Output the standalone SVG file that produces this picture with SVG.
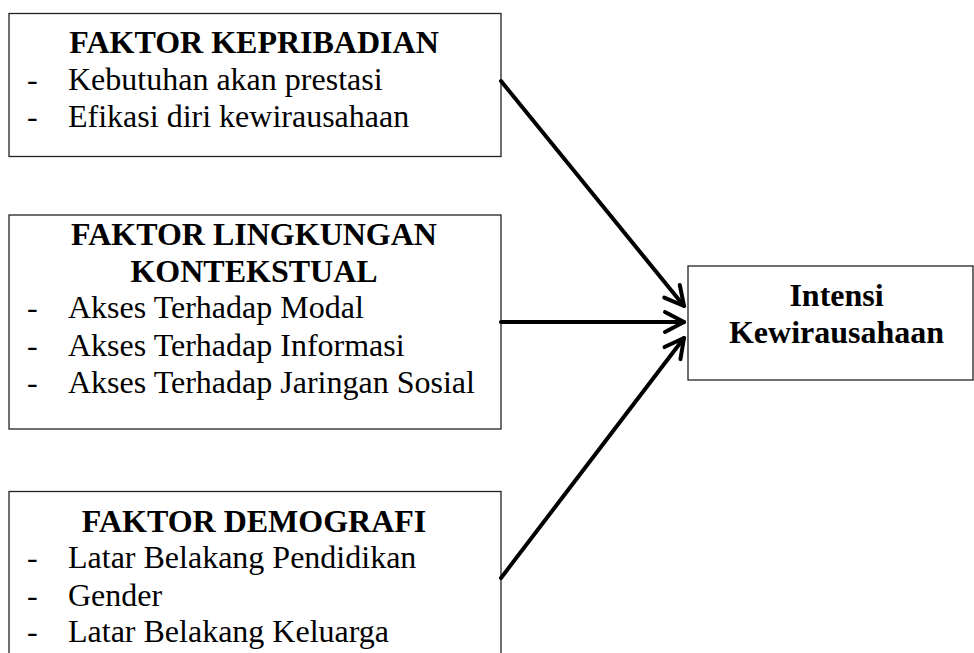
<svg xmlns="http://www.w3.org/2000/svg" width="974" height="653" viewBox="0 0 974 653">
<style>
.box{fill:#fff;stroke:#222;stroke-width:1.3}
.t{font-family:"Liberation Serif","Times New Roman",serif;font-size:32px;fill:#000}
.b{font-weight:bold}
.c{text-anchor:middle}
.conn{stroke:#000;stroke-width:4;fill:none;stroke-linecap:round}
</style>
<defs>
<marker id="arr" markerUnits="userSpaceOnUse" markerWidth="30" markerHeight="30" viewBox="-24 -15 30 30" refX="0" refY="0" orient="auto" overflow="visible">
<path d="M-19,-10 L0,0 L-19,10" fill="none" stroke="#000" stroke-width="4" stroke-linecap="round" stroke-linejoin="round"/>
</marker>
</defs>
<rect width="974" height="653" fill="#fff"/>
<g id="node-kepribadian">
<rect class="box" x="9" y="13.5" width="492" height="143"/>
<text class="t b c" x="254" y="53">FAKTOR KEPRIBADIAN</text>
<text class="t" x="27" y="90">-</text><text class="t" x="68" y="90">Kebutuhan akan prestasi</text>
<text class="t" x="27" y="127">-</text><text class="t" x="68" y="127">Efikasi diri kewirausahaan</text>
</g>
<g id="node-lingkungan">
<rect class="box" x="9" y="215" width="492" height="214"/>
<text class="t b c" x="254" y="245">FAKTOR LINGKUNGAN</text>
<text class="t b c" x="254" y="282">KONTEKSTUAL</text>
<text class="t" x="27" y="318">-</text><text class="t" x="68" y="318">Akses Terhadap Modal</text>
<text class="t" x="27" y="355.5">-</text><text class="t" x="68" y="355.5">Akses Terhadap Informasi</text>
<text class="t" x="27" y="392.5">-</text><text class="t" x="68" y="392.5">Akses Terhadap Jaringan Sosial</text>
</g>
<g id="node-demografi">
<rect class="box" x="9" y="491.5" width="492" height="200"/>
<text class="t b c" x="254" y="531.5">FAKTOR DEMOGRAFI</text>
<text class="t" x="27" y="568">-</text><text class="t" x="68" y="568">Latar Belakang Pendidikan</text>
<text class="t" x="27" y="605.5">-</text><text class="t" x="68" y="605.5">Gender</text>
<text class="t" x="27" y="642">-</text><text class="t" x="68" y="642">Latar Belakang Keluarga</text>
</g>
<g id="node-intensi">
<rect class="box" x="688" y="266" width="285" height="114"/>
<text class="t b c" x="836.5" y="306">Intensi</text>
<text class="t b c" x="836.5" y="343">Kewirausahaan</text>
</g>
<g id="connectors">
<line class="conn" x1="501" y1="81" x2="684" y2="306" marker-end="url(#arr)"/>
<line class="conn" x1="501" y1="322" x2="684" y2="322" marker-end="url(#arr)"/>
<line class="conn" x1="501" y1="578" x2="684" y2="338" marker-end="url(#arr)"/>
</g>
</svg>
